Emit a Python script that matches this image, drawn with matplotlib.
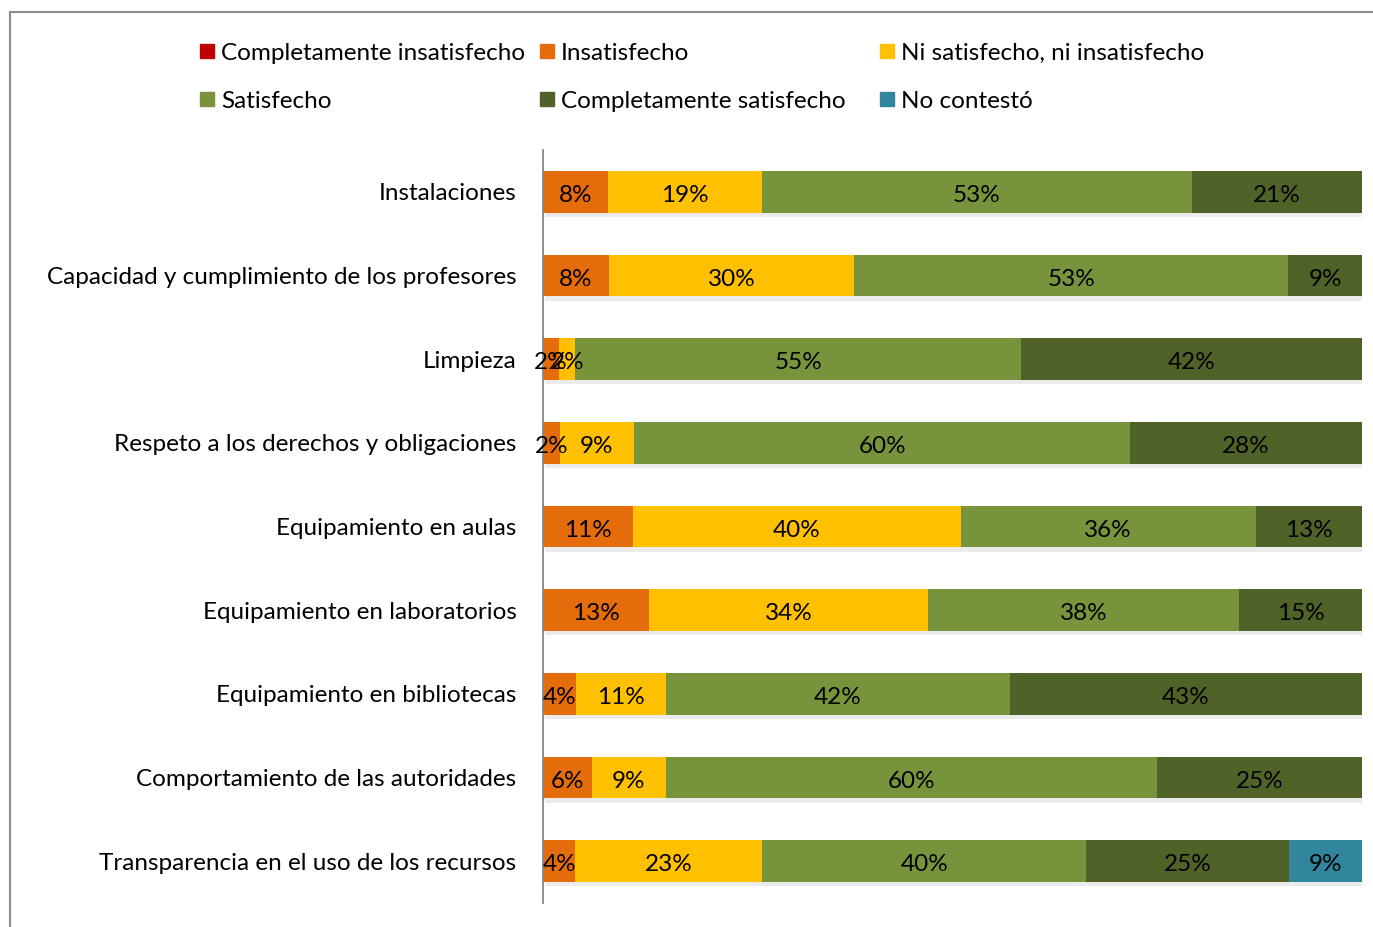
import matplotlib.pyplot as plt
import matplotlib.patheffects as pe
from matplotlib.patches import Rectangle

plt.rcParams['font.family'] = ['Lato', 'DejaVu Sans']

categorias = ["Instalaciones",
              "Capacidad y cumplimiento de los profesores",
              "Limpieza",
              "Respeto a los derechos y obligaciones",
              "Equipamiento en aulas",
              "Equipamiento en laboratorios",
              "Equipamiento en bibliotecas",
              "Comportamiento de las autoridades",
              "Transparencia en el uso de los recursos"]

series = ["Completamente insatisfecho", "Insatisfecho",
          "Ni satisfecho, ni insatisfecho", "Satisfecho",
          "Completamente satisfecho", "No contestó"]

comp_insatisfecho = [0, 0, 0, 0, 0, 0, 0, 0, 0]
insatisfecho = [8, 8, 2, 2, 11, 13, 4, 6, 4]
ni_ni = [19, 30, 2, 9, 40, 34, 11, 9, 23]
satisfecho = [53, 53, 55, 60, 36, 38, 42, 60, 40]
comp_satisfecho = [21, 9, 42, 28, 13, 15, 43, 25, 25]
no_contesto = [0, 0, 0, 0, 0, 0, 0, 0, 9]

colores = ["#C00000", "#E46C0A", "#FFC000", "#77933C", "#4F6228", "#31859C"]

valores = [comp_insatisfecho, insatisfecho, ni_ni, satisfecho,
           comp_satisfecho, no_contesto]

FS = 17.5

fig = plt.figure(figsize=(13.73, 9.27), dpi=100)
ax = fig.add_axes([543 / 1373, 1 - 903 / 927, 819 / 1373, 753 / 927])

# 100% stacked: each row normalised by its own total
totales = [sum(v[i] for v in valores) for i in range(len(categorias))]
y = list(range(len(categorias)))
izq = [0.0] * len(categorias)
sombra = [pe.SimplePatchShadow(offset=(1.5, -3), alpha=0.08, shadow_rgbFace='black'),
          pe.Normal()]
for serie, col in zip(valores, colores):
    anchos = [serie[i] / totales[i] for i in y]
    bars = ax.barh(y, anchos, left=izq, height=0.5, color=col,
                   edgecolor='none', path_effects=sombra)
    for i, b in enumerate(bars):
        if serie[i] > 0:
            ax.text(izq[i] + anchos[i] / 2, y[i] + 0.02, f"{serie[i]}%",
                    ha='center', va='center_baseline', fontsize=FS, color='black')
    izq = [izq[i] + anchos[i] for i in y]

ax.set_xlim(0, 1)
ax.set_ylim(len(categorias) - 0.5, -0.5)
ax.set_yticks(y)
ax.set_yticklabels(categorias, fontsize=FS)
ax.tick_params(axis='y', length=0, pad=19)
ax.set_xticks([])
for s in ['top', 'right', 'bottom']:
    ax.spines[s].set_visible(False)
ax.spines['left'].set_color('#868686')
ax.spines['left'].set_linewidth(1.3)

# legend laid out in three columns, two rows
cols_x = [200, 540, 880]
rows_y = [51, 99]
for k, (nombre, col) in enumerate(zip(series, colores)):
    px = cols_x[k % 3]
    py = rows_y[k // 3]
    fig.patches.append(Rectangle((px / 1373, 1 - (py + 7) / 927), 14 / 1373, 14 / 927,
                                 transform=fig.transFigure, color=col))
    fig.text((px + 21) / 1373, 1 - py / 927, nombre, fontsize=FS,
             va='center_baseline', ha='left')

# chart area border
fig.patches.append(Rectangle((10 / 1373, -0.1), 1.2, 1 - 12 / 927 + 0.1,
                             transform=fig.transFigure, fill=False,
                             edgecolor='#8C8C8C', linewidth=1.5))

fig.savefig("out.png", dpi=100)
